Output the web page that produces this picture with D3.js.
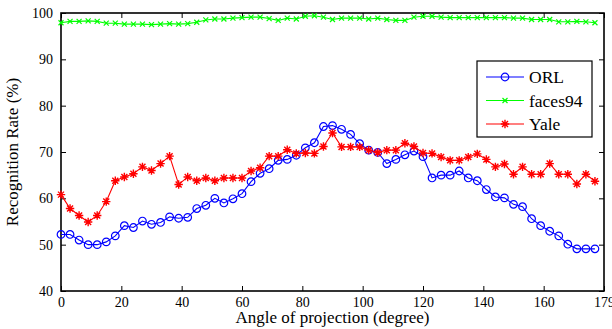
<!DOCTYPE html>
<html>
<head>
<meta charset="utf-8">
<script src="https://cdn.jsdelivr.net/npm/d3@7"></script>
<style>
  body { margin: 0; background: #fff; }
  svg, svg text { font-family: "Liberation Serif", "Times New Roman", "DejaVu Serif", serif !important; }
</style>
</head>
<body>
<div id="root"></div>
<script>
// angles in degrees, one sample every 3 degrees
var angles = d3.range(0, 180, 3);

var orl = [52.2, 52.2, 51.0, 50.0, 50.0, 50.6, 51.9, 54.1, 53.7, 55.1,
           54.4, 54.8, 56.0, 55.7, 55.9, 57.8, 58.5, 60.0, 59.0, 59.9,
           61.0, 63.6, 65.4, 66.4, 68.2, 68.4, 69.3, 70.9, 72.0, 75.5,
           75.7, 74.9, 73.8, 71.8, 70.4, 69.9, 67.5, 68.4, 69.4, 70.2,
           69.0, 64.4, 65.0, 65.0, 65.9, 64.4, 63.8, 61.9, 60.3, 60.1,
           58.7, 58.2, 55.6, 54.1, 52.9, 51.9, 50.1, 49.1, 49.1, 49.1];

var faces94 = [97.9, 98.2, 98.2, 98.3, 98.2, 97.8, 97.8, 97.6, 97.6, 97.6,
               97.5, 97.6, 97.7, 97.6, 97.7, 98.0, 98.5, 98.7, 98.7, 98.9,
               99.0, 99.1, 99.1, 98.8, 98.4, 98.9, 98.7, 99.3, 99.4, 99.1,
               98.6, 98.9, 98.9, 98.9, 98.7, 98.9, 98.6, 98.4, 98.4, 99.1,
               99.3, 99.3, 99.1, 99.0, 99.0, 99.0, 99.0, 99.0, 99.0, 99.0,
               98.9, 98.9, 98.6, 98.6, 98.6, 98.1, 98.1, 98.2, 98.1, 97.9];

var yale = [60.8, 57.8, 56.3, 54.9, 56.3, 59.3, 63.8, 64.6, 65.3, 66.8,
            66.0, 67.5, 69.1, 63.0, 64.6, 63.8, 64.4, 63.8, 64.4, 64.4,
            64.4, 65.9, 66.6, 69.1, 69.1, 70.5, 69.7, 69.8, 69.7, 71.2,
            74.1, 71.1, 71.1, 71.1, 70.4, 69.9, 70.4, 70.4, 71.9, 71.2,
            69.8, 69.7, 68.9, 68.2, 68.2, 68.9, 69.6, 68.4, 66.8, 67.4,
            65.2, 66.8, 65.2, 65.2, 67.5, 65.2, 65.2, 63.1, 65.2, 63.7];

var seriesNames = ["ORL", "faces94", "Yale"];
var seriesColors = ["#0000ff", "#00ff00", "#ff0000"];
var seriesMarkers = ["circle", "cross", "star"];

var xTicks = [0, 20, 40, 60, 80, 100, 120, 140, 160, 180];
var xTickLabels = ["0", "20", "40", "60", "80", "100", "120", "140", "160", "179"];
var yTicks = [40, 50, 60, 70, 80, 90, 100];

var serif = "'Liberation Serif', 'Times New Roman', serif";

var margin = {top: 13, right: 8, bottom: 38, left: 61},
    width = 612 - margin.left - margin.right,
    height = 329 - margin.top - margin.bottom;

var x = d3.scaleLinear().domain([0, 180]).range([0, width]);
var y = d3.scaleLinear().domain([40, 100]).range([height, 0]);

var svg = d3.select("#root").append("svg")
    .attr("width", 612)
    .attr("height", 329)
    .attr("font-family", serif)
  .append("g")
    .attr("transform", "translate(" + margin.left + "," + margin.top + ")");

// axes, ticks pointing inward like matlab
svg.append("g")
    .attr("transform", "translate(0," + height + ")")
    .call(d3.axisBottom(x).tickValues(xTicks).tickSizeInner(-5).tickSizeOuter(0)
      .tickPadding(6).tickFormat(function(d, i) { return xTickLabels[i]; }));
svg.append("g")
    .call(d3.axisTop(x).tickValues(xTicks).tickSizeInner(-5).tickSizeOuter(0).tickFormat(""));
svg.append("g")
    .call(d3.axisLeft(y).tickValues(yTicks).tickSizeInner(-5).tickSizeOuter(0).tickPadding(8));
svg.append("g")
    .attr("transform", "translate(" + width + ",0)")
    .call(d3.axisRight(y).tickValues(yTicks).tickSizeInner(-5).tickSizeOuter(0).tickFormat(""));

svg.selectAll(".domain").remove();
svg.selectAll(".tick").each(function() { d3.select(this.parentNode).attr("font-family", serif); });
svg.selectAll(".tick line").attr("stroke", "#000").attr("stroke-width", 1);
svg.selectAll(".tick text").attr("font-size", 14).attr("fill", "#000")
    .attr("font-family", serif);

svg.append("rect")
    .attr("width", width).attr("height", height)
    .attr("fill", "none").attr("stroke", "#000").attr("stroke-width", 1.6);

// markers
function drawMarker(g, type, color) {
  if (type === "circle") {
    g.append("circle").attr("r", 3.8).attr("fill", "none")
      .attr("stroke", color).attr("stroke-width", 1.2);
  } else if (type === "cross") {
    g.append("path").attr("d", "M-2.5,-2.5L2.5,2.5M-2.5,2.5L2.5,-2.5")
      .attr("stroke", color).attr("stroke-width", 1.2);
  } else {
    g.append("path")
      .attr("d", "M0,-4.2V4.2M-4.2,0H4.2M-3,-3L3,3M-3,3L3,-3")
      .attr("stroke", color).attr("stroke-width", 1.4);
  }
}

var allSeries = [orl, faces94, yale];
var line = d3.line()
    .x(function(d) { return x(d[0]); })
    .y(function(d) { return y(d[1]); });

allSeries.forEach(function(vals, k) {
  var pts = angles.map(function(a, i) { return [a, vals[i]]; });
  svg.append("path")
      .datum(pts)
      .attr("fill", "none")
      .attr("stroke", seriesColors[k])
      .attr("stroke-width", 1.1)
      .attr("d", line);
  svg.selectAll(".m" + k)
      .data(pts)
    .enter().append("g")
      .attr("class", "m" + k)
      .attr("transform", function(d) { return "translate(" + x(d[0]) + "," + y(d[1]) + ")"; })
      .each(function() { drawMarker(d3.select(this), seriesMarkers[k], seriesColors[k]); });
});

// legend
var legend = svg.append("g")
    .attr("transform", "translate(" + (477 - margin.left) + "," + (61 - margin.top) + ")");
legend.append("rect")
    .attr("width", 115).attr("height", 76)
    .attr("fill", "#fff").attr("stroke", "#000").attr("stroke-width", 1.2);
seriesNames.forEach(function(name, k) {
  var row = legend.append("g").attr("transform", "translate(0," + (16 + k * 23.5) + ")");
  row.append("line").attr("x1", 9).attr("x2", 47)
      .attr("stroke", seriesColors[k]).attr("stroke-width", 1.1);
  drawMarker(row.append("g").attr("transform", "translate(28,0)"), seriesMarkers[k], seriesColors[k]);
  row.append("text").attr("x", 52).attr("dy", "0.35em")
      .attr("font-size", 17.5).attr("font-family", serif).text(name);
});

// axis titles
svg.append("text")
    .attr("x", width / 2)
    .attr("y", height + 32)
    .attr("text-anchor", "middle")
    .attr("font-size", 17)
    .attr("font-family", serif)
    .text("Angle of projection (degree)");

svg.append("text")
    .attr("transform", "translate(" + (-43) + "," + (height / 2) + ") rotate(-90)")
    .attr("text-anchor", "middle")
    .attr("font-size", 17)
    .attr("font-family", serif)
    .text("Recognition Rate (%)");
</script>
</body>
</html>
